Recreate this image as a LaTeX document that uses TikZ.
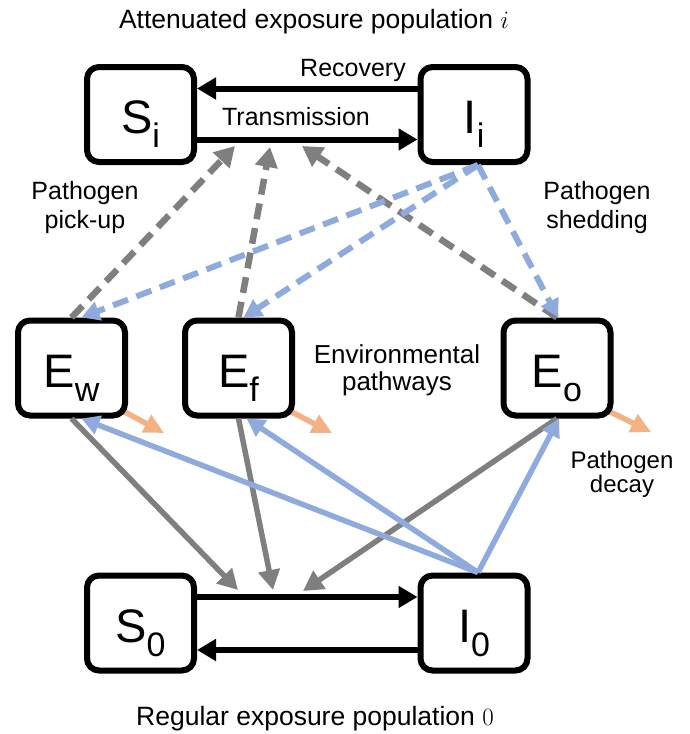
\documentclass[tikz,border=0pt]{standalone}
\usepackage{fontspec}
\setmainfont{Liberation Sans}
\usepackage{xcolor}
\usetikzlibrary{arrows.meta,backgrounds}
\definecolor{pathgray}{HTML}{7F7F7F}
\definecolor{pathblue}{HTML}{8FAADC}
\definecolor{decayorange}{HTML}{F4B183}
\newcommand{\comp}[2]{#1\raisebox{-14pt}{\fontsize{34}{34}\selectfont #2}}
\tikzset{
  compartment/.style={draw,line width=6pt,rounded corners=12pt,fill=white,
    minimum width=107pt,minimum height=95pt,inner sep=0pt,
    text height=42pt,text depth=4pt,font=\fontsize{47}{47}\selectfont},
  flow/.style={line width=6pt,-{Triangle[length=19pt,width=21pt]}},
  pickup/.style={pathgray,line width=6.5pt,dash pattern=on 16pt off 9pt,-{Triangle[length=20pt,width=22pt]}},
  shed/.style={pathblue,line width=6pt,dash pattern=on 16pt off 9pt,-{Triangle[length=18pt,width=19pt]}},
  pickupzero/.style={pathgray,line width=5.5pt,-{Triangle[length=20pt,width=21pt]}},
  shedzero/.style={pathblue,line width=5.5pt,-{Triangle[length=18pt,width=19pt]}},
  decayarrow/.style={decayorange,line width=5.5pt,-{Triangle[length=20pt,width=19pt]}},
  flowtext/.style={font=\fontsize{25}{29}\selectfont,align=center},
  poptitle/.style={font=\fontsize{26.5}{30}\selectfont,anchor=base}
}

\begin{document}
\begin{tikzpicture}[x=1pt,y=-1pt]
\useasboundingbox (0,0) rectangle (690,734);
%the population titles
\node[poptitle] (toptitle) at (314,28) {Attenuated exposure population $i$};
\node[poptitle] (bottitle) at (315,725) {Regular exposure population $0$};
%the compartments
\node[compartment] (Si) at (140.5,114.5) {\comp{S}{i}};
\node[compartment] (Ii) at (474,114.5) {\comp{I}{i}};
\node[compartment] (Ew) at (71.5,368) {\comp{E}{w}};
\node[compartment] (Ef) at (238.5,368) {\comp{E}{f}};
\node[compartment] (Eo) at (557,368) {\comp{E}{o}};
\node[compartment] (S0) at (140.5,623) {\comp{S}{0}};
\node[compartment] (I0) at (474,623) {\comp{I}{0}};
%the labels
\node[flowtext,anchor=base] (rec) at (353,76) {Recovery};
\node[flowtext,anchor=base] (trans) at (296,125) {Transmission};
\node[flowtext] (pick) at (85,208) {Pathogen\\pick-up};
\node[flowtext] (shedding) at (597,208) {Pathogen\\shedding};
\node[flowtext,font=\fontsize{26}{27}\selectfont] (env) at (397,370) {Environmental\\pathways};
\node[flowtext,font=\fontsize{24}{24}\selectfont] (decay) at (622,474) {Pathogen\\decay};
%points on the transmission arrows
\coordinate (pu1) at (235,146);
\coordinate (pu2) at (270,147);
\coordinate (pu3) at (302,146);
\coordinate (tr1) at (238,590);
\coordinate (tr2) at (273,590);
\coordinate (tr3) at (303,591);
%free ends of the decay arrows
\coordinate (dcw) at (164,433);
\coordinate (dcf) at (332,433);
\coordinate (dco) at (651,432);
%transmission and recovery
\draw[flow] ([yshift=26pt]Ii.west) -- ([yshift=26pt]Si.east);
\draw[flow] ([yshift=-25pt]Si.east) -- ([yshift=-25pt]Ii.west);
\draw[flow] ([yshift=26pt]S0.east) -- ([yshift=26pt]I0.west);
\draw[flow] ([yshift=-27pt]I0.west) -- ([yshift=-27pt]S0.east);
%pick-up by the attenuated population
\draw[pickup] (Ew.north) -- (pu1);
\draw[pickup] (Ef.north) -- (pu2);
\draw[pickup] (Eo.north) -- (pu3);
%shedding by the attenuated population
\draw[shed] ([xshift=4pt]Ii.south) -- ([xshift=10pt]Ew.north);
\draw[shed] ([xshift=4pt]Ii.south) -- ([xshift=5pt]Ef.north);
\draw[shed] ([xshift=4pt]Ii.south) -- ([xshift=1pt]Eo.north);
%pick-up by the regular population
\draw[pickupzero] (Ew.south) -- (tr1);
\draw[pickupzero] (Ef.south) -- (tr2);
\draw[pickupzero] (Eo.south) -- (tr3);
%shedding by the regular population
\draw[shedzero] ([xshift=4pt]I0.north) -- ([xshift=10pt]Ew.south);
\draw[shedzero] ([xshift=4pt]I0.north) -- ([xshift=8pt]Ef.south);
\draw[shedzero] ([xshift=4pt]I0.north) -- ([xshift=2pt]Eo.south);
%pathogen decay
\begin{scope}[on background layer]
\draw[decayarrow] ([shift={(-6pt,8pt)}]Ew.south east) -- (dcw);
\draw[decayarrow] ([shift={(-6pt,8pt)}]Ef.south east) -- (dcf);
\draw[decayarrow] ([shift={(-6pt,8pt)}]Eo.south east) -- (dco);
\end{scope}
\end{tikzpicture}
\end{document}
